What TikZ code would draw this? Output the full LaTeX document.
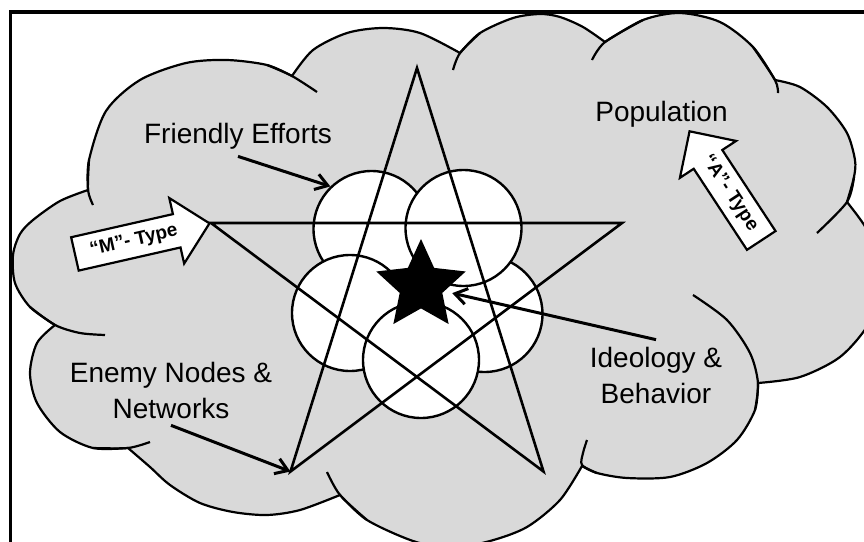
\documentclass[tikz,border=0pt]{standalone}
\usepackage{fontspec}
\setmainfont{Liberation Sans}
\usetikzlibrary{arrows.meta,shapes.geometric,shapes.arrows}
\definecolor{cloudgray}{RGB}{217,217,217}
\tikzset{
  puff/.style={line width=1.1pt},
  disc/.style={circle,draw,fill=white,line width=1.2pt,minimum size=58pt,inner sep=0pt},
  lbl/.style={font=\fontsize{14}{18}\selectfont,align=center},
  pointer/.style={line width=1.5pt,-{Straight Barb[length=6pt,width=8pt]}},
  blockarrow/.style={single arrow,draw,fill=white,line width=1.1pt,
    font=\bfseries\fontsize{9.5}{11}\selectfont,text height=7pt,text depth=2pt,
    inner ysep=3.5pt,single arrow head extend=8.25pt,minimum height=69pt}
}

\begin{document}
\begin{tikzpicture}[x=0.5pt,y=-0.5pt]
\useasboundingbox (0,0) rectangle (864,542);
\clip (0,0) rectangle (864,542);

% The cloud
\filldraw[puff,fill=cloudgray]
  plot[smooth] coordinates {(88,190) (89,160) (106,111) (140,80) (186,63) (227,60) (267,65) (292,76)}
  -- plot[smooth] coordinates {(292,76) (313,50) (347,33) (383,28) (420,33) (460,53)}
  -- plot[smooth] coordinates {(460,53) (480,33) (513,18) (540,14) (560,17) (583,27) (605,42)}
  -- plot[smooth] coordinates {(605,42) (643,20) (680,13) (720,22) (753,47) (775,80)}
  -- plot[smooth] coordinates {(775,80) (800,87) (827,107) (847,133) (855,160) (854,177) (847,202)}
  -- plot[smooth] coordinates {(847,202) (866,228) (878,258) (880,290) (868,325) (840,357) (800,377) (758,383)}
  -- plot[smooth] coordinates {(758,383) (755,410) (737,440) (707,463) (670,477) (627,478) (597,473) (582,466)}
  -- plot[smooth] coordinates {(582,466) (560,500) (527,527) (490,541) (450,548) (413,541) (367,520) (340,495)}
  -- plot[smooth] coordinates {(340,495) (300,510) (267,515) (233,512) (200,503) (170,485) (150,467) (128,448)}
  -- plot[smooth] coordinates {(128,448) (93,448) (60,432) (37,403) (30,373) (37,343) (55,325)}
  -- plot[smooth] coordinates {(55,325) (30,307) (15,283) (13,255) (20,234) (33,220) (60,201) (88,190)}
  -- cycle;

% The inner ends of the puffs
\draw[puff] plot[smooth] coordinates {(30,307) (55,325) (80,333) (105,335)};
\draw[puff] plot[smooth] coordinates {(89,160) (88,190) (93,205)};
\draw[puff] plot[smooth] coordinates {(267,65) (292,76) (317,92)};
\draw[puff] plot[smooth] coordinates {(453,70) (460,53) (480,33)};
\draw[puff] plot[smooth] coordinates {(592,60) (605,42) (643,20)};
\draw[puff] plot[smooth] coordinates {(753,47) (775,80) (778,93)};
\draw[puff] plot[smooth] coordinates {(854,177) (847,202) (817,233)};
\draw[puff] plot[smooth] coordinates {(693,295) (727,320) (750,353) (758,383) (755,410)};
\draw[puff] plot[smooth] coordinates {(597,473) (582,465) (583,453) (587,440)};
\draw[puff] plot[smooth] coordinates {(367,520) (340,495) (327,472)};
\draw[puff] plot[smooth] coordinates {(93,448) (128,448) (150,442)};

% The efforts
\node[disc] (tl) at (371.5,229) {};
\node[disc] (rc) at (484.5,314) {};
\node[disc] (tr) at (463.5,228) {};
\node[disc] (lc) at (350,313) {};
\node[disc] (bc) at (421,360) {};

% The pentagram
\coordinate (apex) at (417,68);
\coordinate (lpt) at (211,223);
\coordinate (rpt) at (622,223);
\coordinate (blpt) at (290.5,471.5);
\coordinate (brpt) at (543.5,471.5);
\draw[line width=1.3pt] (apex) -- (blpt) -- (rpt) -- (lpt) -- (brpt) -- cycle;

\node[star,star points=5,star point ratio=2.1,fill=black,minimum size=47pt,inner sep=0pt] (core) at (421,286) {};

% The labels
\node[lbl,anchor=base] (friendly) at (238,143.5) {Friendly Efforts};
\node[lbl,anchor=base] (population) at (661.5,121.7) {Population};
\node[lbl] (enemy) at (171,390) {Enemy Nodes \&\\Networks};
\node[lbl] (ideology) at (656,375) {Ideology \&\\Behavior};

\draw[pointer] (friendly.south) -- (tl.134);
\draw[pointer] (enemy.south) -- (blpt);
\draw[pointer,shorten >=16pt] (ideology.north) -- (core.center);

\node[blockarrow,rotate=12.8,anchor=tip] (mtype) at (lpt) {“M”- Type};
\node[blockarrow,rotate=-56.7,shape border rotate=180,anchor=tip,minimum height=65.3pt] (atype) at (688.7,130) {“A”- Type};

% The frame
\draw[line width=1.8pt] (10.7,12) rectangle (870,543.5);
\end{tikzpicture}
\end{document}
